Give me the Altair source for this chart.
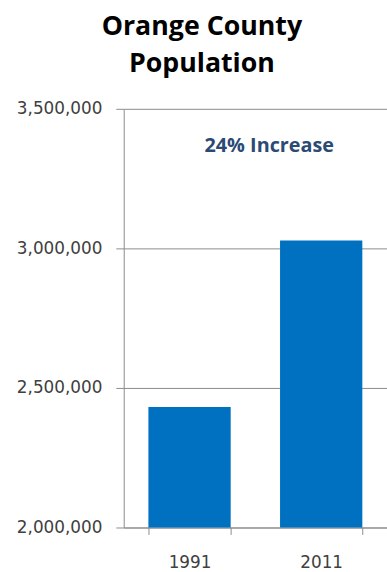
import altair as alt
import pandas as pd

years = ["1991", "2011"]
population = [2432000, 3028000]
y_ticks = [2000000, 2500000, 3000000, 3500000]
note_text = ["24% Increase"]
note_value = [3365000]

bars_df = pd.DataFrame({"year": years, "population": population})
note_df = pd.DataFrame({"label": note_text, "population": note_value})

yscale = alt.Scale(domain=[2000000, 3500000], nice=False, zero=False)
yaxis = alt.Axis(values=y_ticks, format=",.0f", tickSize=8,
                 labelPadding=14, labelFontSize=17,
                 labelFont="DejaVu Sans", labelColor="#404040",
                 domainColor="#8c8c8c", tickColor="#8c8c8c",
                 gridColor="#8c8c8c", grid=True)

bars = alt.Chart(bars_df).mark_bar(color="#0070C0", clip=True).encode(
    x=alt.X("year:N", title=None, sort=years,
            scale=alt.Scale(paddingInner=0.375, paddingOuter=0.1875),
            axis=alt.Axis(labelAngle=0, tickBand="extent", tickSize=7,
                          labelPadding=20, labelFontSize=17,
                          labelFont="DejaVu Sans", labelColor="#404040",
                          domainColor="#8c8c8c", tickColor="#8c8c8c",
                          grid=False)),
    y=alt.Y("population:Q", title=None, scale=yscale, axis=yaxis),
)

note = alt.Chart(note_df).mark_text(
    font="Open Sans", fontWeight="bold", fontSize=20, color="#2B4A74",
    align="center", baseline="middle"
).encode(
    x=alt.value(147),
    y=alt.Y("population:Q", title=None, scale=yscale, axis=yaxis),
    text="label:N",
)

chart = (bars + note).properties(
    width=266, height=423,
    padding={"left": 125, "top": 107, "right": 0, "bottom": 42},
    autosize=alt.AutoSizeParams(type="none"),
    title=alt.TitleParams(["Orange County", "Population"], font="Open Sans",
                          fontSize=27, fontWeight="bold", color="#000000",
                          anchor="middle", dx=-54, offset=22, lineHeight=38),
).configure_view(stroke=None)

chart.save("out.html", embed_options={"renderer": "svg", "actions": False})
